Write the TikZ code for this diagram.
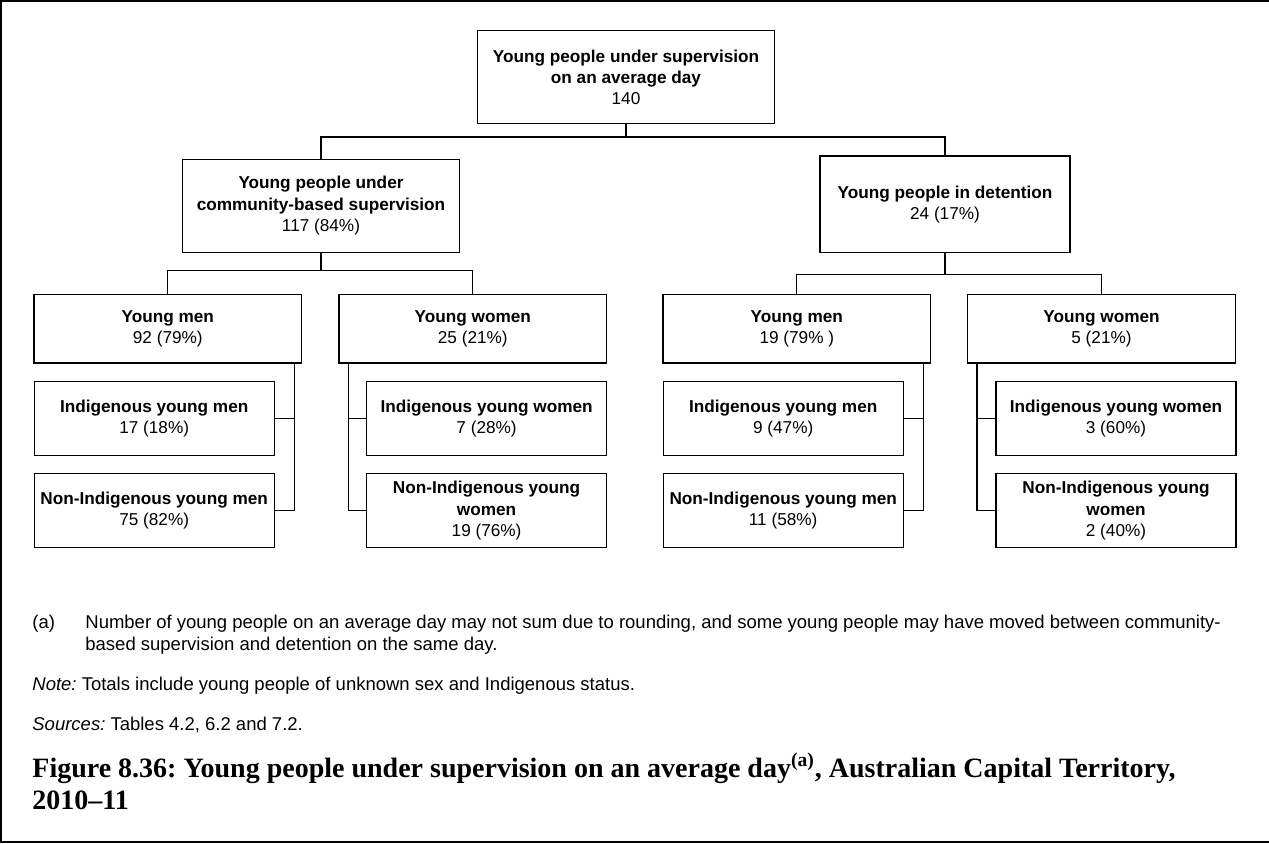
\documentclass[tikz,border=0pt]{standalone}
\usepackage{fontspec}
\setmainfont{Liberation Sans}
\newfontfamily\capserif{Liberation Serif}
\usetikzlibrary{calc}
\frenchspacing
\tikzset{
  box/.style={draw, line width=0.7pt, align=center, inner sep=0pt,
    font=\fontsize{8.6}{10.65}\selectfont},
  headbox/.style={box, minimum height=46.5pt},
  sexbox/.style={box, minimum width=133.8pt, minimum height=34.2pt},
  subbox/.style={box, minimum width=120pt, minimum height=37pt},
  conn/.style={line width=0.6pt},
  fnote/.style={anchor=base west, inner sep=0pt, font=\fontsize{9.25}{11}\selectfont},
  capline/.style={anchor=base west, inner sep=0pt, font={\capserif\bfseries\fontsize{14}{17}\selectfont}}
}

\begin{document}
\begin{tikzpicture}[x=0.5pt, y=-0.5pt]
    \useasboundingbox (0,0) rectangle (1269,843);
    \draw[line width=1pt] (1275,1) -- (1,1) -- (1,842) -- (1275,842);

    % top level
    \node[headbox, minimum width=148.7pt] (top) at (626,77.2) {\textbf{Young people under supervision}\\\textbf{on an average day}\\140};
    \node[headbox, minimum width=138.7pt] (comm) at (321,205.8) {\textbf{Young people under}\\\textbf{community-based supervision}\\117 (84\%)};
    \node[headbox, minimum width=125pt, minimum height=48.2pt] (det) at (945,204.2) {\textbf{Young people in detention}\\24 (17\%)};

    % community-based supervision
    \node[sexbox] (cym) at (167.8,328.8) {\textbf{Young men}\\92 (79\%)};
    \node[sexbox] (cyw) at (472.8,328.8) {\textbf{Young women}\\25 (21\%)};
    \node[subbox] (ciym) at (154.2,418.5) {\textbf{Indigenous young men}\\17 (18\%)};
    \node[subbox] (cnym) at (154.2,510.7) {\textbf{Non-Indigenous young men}\\75 (82\%)};
    \node[subbox] (ciyw) at (486.6,418.5) {\textbf{Indigenous young women}\\7 (28\%)};
    \node[subbox] (cnyw) at (486.6,510.7) {\textbf{Non-Indigenous young}\\\textbf{women}\\19 (76\%)};

    % detention
    \node[sexbox] (dym) at (796.8,328.8) {\textbf{Young men}\\19 (79\% )};
    \node[sexbox] (dyw) at (1101.5,328.8) {\textbf{Young women}\\5 (21\%)};
    \node[subbox] (diym) at (783.2,418.5) {\textbf{Indigenous young men}\\9 (47\%)};
    \node[subbox] (dnym) at (783.2,510.7) {\textbf{Non-Indigenous young men}\\11 (58\%)};
    \node[subbox] (diyw) at (1116,418.5) {\textbf{Indigenous young women}\\3 (60\%)};
    \node[subbox] (dnyw) at (1116,510.7) {\textbf{Non-Indigenous young}\\\textbf{women}\\2 (40\%)};

    % connectors
    \draw[conn] (top.south) -- ++(0,12.6) -| (comm.north);
    \draw[conn] (top.south) -- ++(0,12.6) -| (det.north);
    \draw[conn] (comm.south) -- ++(0,17.7) -| (cym.north);
    \draw[conn] (comm.south) -- ++(0,17.7) -| (cyw.north);
    \draw[conn] (det.south) -- ++(0,21) -| (dym.north);
    \draw[conn] (det.south) -- ++(0,21) -| (dyw.north);
    \foreach \p in {c,d} {
        \coordinate (\p mx) at ([xshift=-4pt]\p ym.south east);
        \coordinate (\p wx) at ([xshift=5pt]\p yw.south west);
        \draw[conn] (\p mx) |- (\p nym.east);
        \draw[conn] (\p iym.east) -- (\p iym.east -| \p mx);
        \draw[conn] (\p wx) |- (\p nyw.west);
        \draw[conn] (\p iyw.west) -- (\p iyw.west -| \p wx);
    }

    % notes and caption
    \node[fnote] (fa) at (32,628) {(a)};
    \node[fnote] (fa1) at (85,628) {Number of young people on an average day may not sum due to rounding, and some young people may have moved between community-};
    \node[fnote] (fa2) at (85,650) {based supervision and detention on the same day.};
    \node[fnote] (note) at (32,690) {\textit{Note:} Totals include young people of unknown sex and Indigenous status.};
    \node[fnote] (src) at (32,730) {\textit{Sources:} Tables 4.2, 6.2 and 7.2.};
    \node[capline] (cap1) at (32,777) {Figure 8.36: Young people under supervision on an average day\textsuperscript{(a)}, Australian Capital Territory,};
    \node[capline] (cap2) at (32,809) {2010–11};
\end{tikzpicture}
\end{document}
